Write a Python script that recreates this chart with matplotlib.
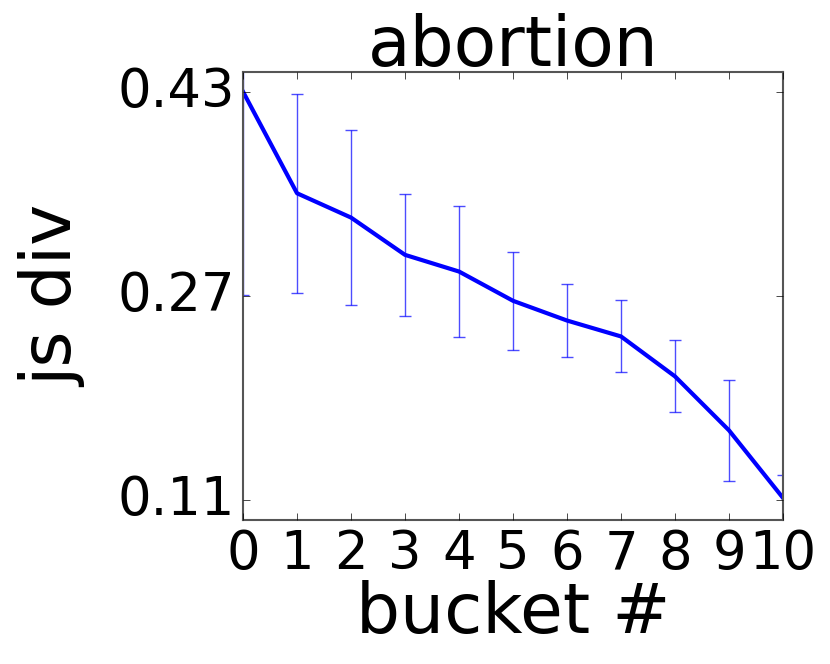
import matplotlib
matplotlib.use("Agg")
import matplotlib.pyplot as plt

plt.style.use('classic')
plt.rcParams['font.family'] = ['DejaVu Sans']

buckets = list(range(11))
means = [0.4305, 0.3507, 0.3316, 0.3023, 0.2892, 0.2662, 0.2507, 0.2382, 0.2068, 0.1644, 0.1113]
errs = [0.16, 0.078, 0.069, 0.048, 0.0516, 0.0387, 0.0288, 0.0283, 0.0283, 0.0397, 0.018]
ytick_vals = [0.11, 0.27, 0.43]
ytick_labels = ['0.11', '0.27', '0.43']
title = 'abortion'

fig = plt.figure(figsize=(8.3, 6.64), dpi=100)
fig.patch.set_facecolor('white')
ax = fig.add_axes([0.2928, 0.2169, 0.6506, 0.6747])
ax.errorbar(buckets, means, yerr=errs, fmt='none', ecolor='blue', alpha=0.7,
            elinewidth=1.0, capsize=4, capthick=1.0)
ax.plot(buckets, means, color='blue', linewidth=3)
ax.set_xlim(0, 10)
ax.set_ylim(0.094, 0.446)
ax.set_xticks(buckets)
ax.set_xticklabels([str(b) for b in buckets])
ax.set_yticks(ytick_vals)
ax.set_yticklabels(ytick_labels)
ax.tick_params(labelsize=38, direction='in', length=5, pad=6)
for s in ax.spines.values():
    s.set_color('#555555')
    s.set_linewidth(1.5)
ax.set_title(title, fontsize=50, pad=4)
ax.set_xlabel('bucket #', fontsize=50, labelpad=0)
ax.set_ylabel('js div', fontsize=50, labelpad=22)
fig.savefig('out.png', dpi=100, facecolor='white')
